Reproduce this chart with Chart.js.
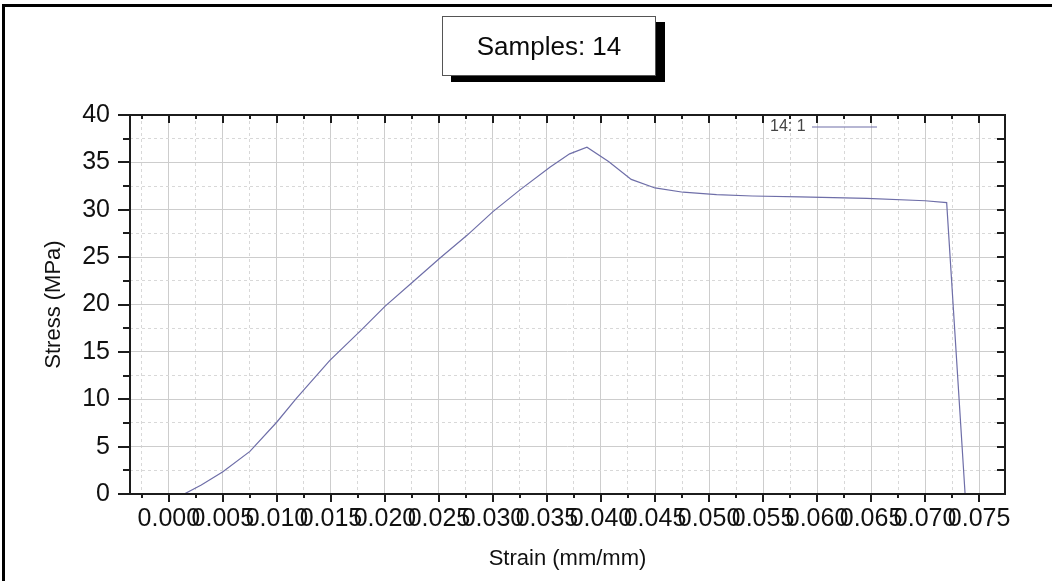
<!DOCTYPE html>
<html>
<head>
<meta charset="utf-8">
<script src="https://cdn.jsdelivr.net/npm/chart.js@4/dist/chart.umd.min.js"></script>
<style>
    html, body { margin: 0; padding: 0; background: #fff; }
    #wrap { position: relative; width: 1052px; height: 581px; overflow: hidden; }
    #frame { position: absolute; left: 2px; top: 4px; width: 1100px; height: 700px;
             border-left: 3px solid #000; border-top: 3px solid #000; pointer-events: none; }
    #titleBox { position: absolute; left: 442px; top: 16px; width: 212px; height: 58px;
                border: 1.5px solid #555; background: #fff; box-shadow: 9px 6px 0 #000;
                font: 26px "Liberation Sans", Arial, sans-serif; color: #0a0a0a;
                display: flex; align-items: center; justify-content: center; }
</style>
</head>
<body>
<div id="wrap">
    <canvas id="stressStrain" width="1052" height="581"></canvas>
    <div id="frame"></div>
    <div id="titleBox">Samples: 14</div>
</div>
<script>
// Paraugs 14:1 - deformācija (mm/mm) un spriegums (MPa)
const sampleLabel = '14: 1';
const strain = [0.0007, 0.0015, 0.0030, 0.0050, 0.0075, 0.0100, 0.0118, 0.0149, 0.0178, 0.0200,
                0.0226, 0.0251, 0.0276, 0.0300, 0.0325, 0.0353, 0.0371, 0.0387, 0.0407, 0.0428,
                0.0450, 0.0476, 0.0507, 0.0540, 0.0584, 0.0646, 0.0700, 0.0720, 0.0737];
const stress = [0, 0.05, 0.95, 2.35, 4.5, 7.6, 10.1, 14.1, 17.3, 19.8,
                22.4, 24.9, 27.3, 29.8, 32.1, 34.5, 35.9, 36.6, 35.1, 33.2,
                32.3, 31.85, 31.6, 31.45, 31.35, 31.2, 30.95, 30.75, 0.1];

const lineColor = '#6e6ea8';
const fontFamily = '"Liberation Sans", Arial, sans-serif';

// vai iedaļa ir galvenā (ar uzrakstu)
const isMajorX = v => Math.round(v / 0.0025) % 2 === 0;
const isMajorY = v => Math.round(v / 2.5) % 2 === 0;

// Rāmis ap zīmēšanas laukumu un iedaļu svītriņas visās četrās malās
const frameTicks = {
    id: 'frameTicks',
    afterDraw(chart) {
        const { ctx, chartArea: a, scales: { x, y } } = chart;
        const seg = (x1, y1, x2, y2) => { ctx.beginPath(); ctx.moveTo(x1, y1); ctx.lineTo(x2, y2); ctx.stroke(); };
        ctx.save();
        ctx.strokeStyle = '#1c1c1c';
        ctx.lineWidth = 2;
        x.ticks.forEach(t => {
            const px = Math.round(x.getPixelForValue(t.value));
            const major = isMajorX(t.value);
            seg(px, a.bottom, px, a.bottom + (major ? 8 : 4)); // apakšā uz āru
            seg(px, a.top, px, a.top + (major ? 8 : 4));       // augšā uz iekšu
        });
        y.ticks.forEach(t => {
            const py = Math.round(y.getPixelForValue(t.value));
            const major = isMajorY(t.value);
            seg(a.left, py, a.left - (major ? 12 : 7), py);    // pa kreisi uz āru
            seg(a.right, py, a.right - 8, py);                 // pa labi uz iekšu
        });
        ctx.strokeRect(a.left, a.top, a.right - a.left, a.bottom - a.top);

        // leģenda: teksts, tad līnija
        const ds = chart.data.datasets[0];
        const ly = a.top + 12;
        ctx.font = '16px ' + fontFamily;
        ctx.fillStyle = '#444';
        ctx.textAlign = 'left';
        ctx.textBaseline = 'middle';
        ctx.fillText(ds.label, a.right - 235, ly);
        ctx.strokeStyle = ds.borderColor;
        ctx.lineWidth = 1.2;
        seg(a.right - 193, ly, a.right - 128, ly);
        ctx.restore();
    }
};

const ctx = document.getElementById('stressStrain').getContext('2d');
const chart = new Chart(ctx, {
    type: 'line',
    data: {
        datasets: [{
            label: sampleLabel,
            data: strain.map((s, i) => ({ x: s, y: stress[i] })),
            borderColor: lineColor,
            borderWidth: 1.2,
            pointRadius: 0,
            tension: 0,
            fill: false
        }]
    },
    options: {
        responsive: false,
        animation: false,
        devicePixelRatio: 1,
        layout: { padding: { left: 32, top: 115, right: 47, bottom: 8 } },
        plugins: {
            legend: { display: false },
            tooltip: { enabled: false }
        },
        scales: {
            x: {
                type: 'linear',
                min: -0.0036,
                max: 0.0774,
                afterFit: scale => { scale.height = 79; },
                ticks: {
                    stepSize: 0.0025,
                    includeBounds: false,
                    autoSkip: false,
                    maxRotation: 0,
                    padding: 10,
                    color: '#111',
                    font: { family: fontFamily, size: 25 },
                    callback: v => (isMajorX(v) && v > -0.001) ? v.toFixed(3) : ''
                },
                grid: {
                    drawTicks: false,
                    color: c => isMajorX(c.tick.value) ? '#cdcdcd' : '#d8d8d8',
                    lineWidth: 1
                },
                border: {
                    display: false,
                    dash: c => isMajorX(c.tick.value) ? [] : [3, 3]
                },
                title: {
                    display: true,
                    text: 'Strain (mm/mm)',
                    color: '#111',
                    font: { family: fontFamily, size: 22 },
                    padding: { top: 0, bottom: 1 }
                }
            },
            y: {
                min: 0,
                max: 40,
                afterFit: scale => { scale.width = 98; },
                ticks: {
                    stepSize: 2.5,
                    includeBounds: false,
                    autoSkip: false,
                    padding: 20,
                    color: '#111',
                    font: { family: fontFamily, size: 25 },
                    callback: v => isMajorY(v) ? String(v) : ''
                },
                grid: {
                    drawTicks: false,
                    color: c => isMajorY(c.tick.value) ? '#cdcdcd' : '#d8d8d8',
                    lineWidth: 1
                },
                border: {
                    display: false,
                    dash: c => isMajorY(c.tick.value) ? [] : [3, 3]
                },
                title: {
                    display: true,
                    text: 'Stress (MPa)',
                    color: '#111',
                    font: { family: fontFamily, size: 22 },
                    padding: { top: 9, bottom: 0 }
                }
            }
        }
    },
    plugins: [frameTicks]
});
</script>
</body>
</html>
